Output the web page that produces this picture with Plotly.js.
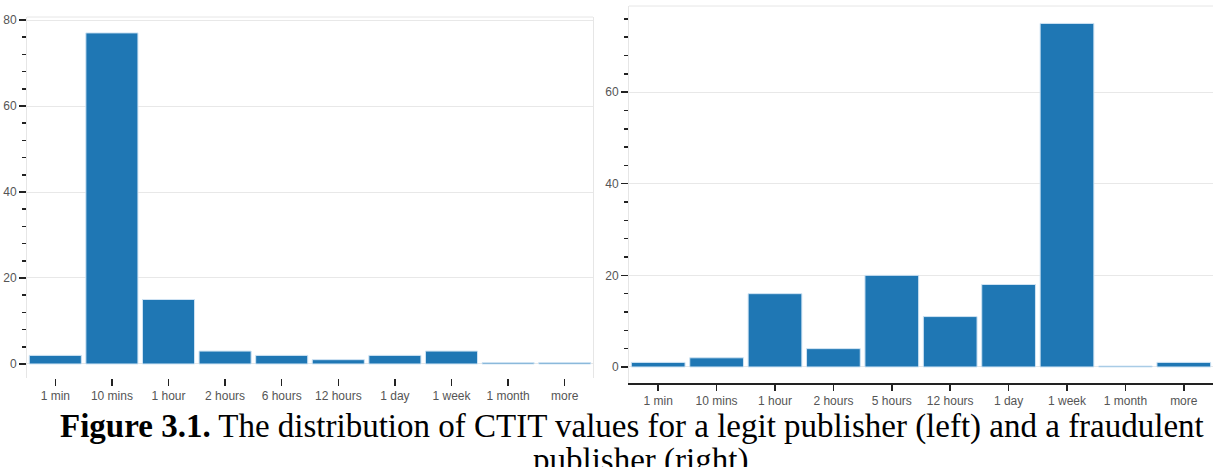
<!DOCTYPE html>
<html>
<head>
<meta charset="utf-8">
<script src="https://cdn.plot.ly/plotly-3.0.1.min.js"></script>
<style>
html,body{margin:0;padding:0;background:#fff;}
#chart{width:1217px;height:467px;}
</style>
</head>
<body>
<div id="chart"></div>
<script>
// ---- data ----
const leftCategories = ["1 min","10 mins","1 hour","2 hours","6 hours","12 hours","1 day","1 week","1 month","more"];
const leftValues     = [2, 77, 15, 3, 2, 1, 2, 3, 0.3, 0.3];
const rightCategories = ["1 min","10 mins","1 hour","2 hours","5 hours","12 hours","1 day","1 week","1 month","more"];
const rightValues     = [1, 2, 16, 4, 20, 11, 18, 75, 0.2, 1];
const yTickValues = [0, 20, 40, 60, 80];
const captionBold = "Figure 3.1.";
const captionLine1 = " The distribution of CTIT values for a legit publisher (left) and a fraudulent";
const captionLine2 = "publisher (right)";

// ---- layout helpers (pixel -> paper) ----
const W = 1217, H = 467;
const px = v => v / W;
const py = v => (H - v) / H;

const barColor = "#1f77b4";
const tickFont = {family: "Liberation Sans, Arial, sans-serif", size: 12, color: "#555"};
const captionFont = {family: "Liberation Serif, Times New Roman, serif", size: 33, color: "#000"};

const traces = [
  {type: "bar", x: leftCategories, y: leftValues, xaxis: "x", yaxis: "y",
   marker: {color: barColor, line: {color: "#cfe3f3", width: 1}}, hoverinfo: "x+y"},
  {type: "bar", x: rightCategories, y: rightValues, xaxis: "x2", yaxis: "y2",
   marker: {color: barColor, line: {color: "#cfe3f3", width: 1}}, hoverinfo: "x+y"}
];

const yCommon = {
  tickmode: "array", tickvals: yTickValues, ticktext: yTickValues.map(String),
  ticks: "outside", ticklen: 7, tickcolor: "#222", tickwidth: 1.5,
  minor: {dtick: 4, tick0: 0, ticks: "outside", ticklen: 4, tickcolor: "#222", tickwidth: 1.5, showgrid: false},
  showgrid: true, gridcolor: "#e8e8e8", gridwidth: 1,
  zeroline: false, tickfont: tickFont, fixedrange: true
};

const layout = {
  width: W, height: H,
  margin: {l: 0, r: 0, t: 0, b: 0},
  paper_bgcolor: "#fff", plot_bgcolor: "#fff",
  showlegend: false,
  bargap: 0.08,
  xaxis: {domain: [px(27), px(593)], anchor: "y", type: "category",
          ticks: "outside", ticklen: 7, tickcolor: "#222", tickwidth: 1.5,
          showline: false, showgrid: false, zeroline: false, tickfont: tickFont},
  yaxis: Object.assign({}, yCommon, {domain: [py(378), py(17)], anchor: "x", range: [-3.26, 80.7],
          showline: true, mirror: true, linecolor: "#e6e6e6", linewidth: 1}),
  xaxis2: {domain: [px(629), px(1213)], anchor: "y2", type: "category",
          ticks: "outside", ticklen: 6, tickcolor: "#222", tickwidth: 1.5,
          showline: true, linecolor: "#222", linewidth: 1.5,
          showgrid: false, zeroline: false, tickfont: tickFont},
  yaxis2: Object.assign({}, yCommon, {domain: [py(383), py(6)], anchor: "x2", range: [-3.5, 78.8],
          showline: true, linecolor: "#e6e6e6", linewidth: 1}),
  shapes: [
    {type: "line", xref: "x domain", yref: "y domain", x0: 0, x1: 1, y0: 1, y1: 1,
     line: {color: "#e6e6e6", width: 1}},
    {type: "line", xref: "x2 domain", yref: "y2 domain", x0: 0, x1: 1, y0: 1, y1: 1,
     line: {color: "#e6e6e6", width: 1}}
  ],
  annotations: [
    {xref: "paper", yref: "paper", x: px(632), y: py(426), xanchor: "center", yanchor: "middle",
     showarrow: false, text: "<b>" + captionBold + "</b>" + captionLine1, font: captionFont},
    {xref: "paper", yref: "paper", x: px(640), y: py(460), xanchor: "center", yanchor: "middle",
     showarrow: false, text: captionLine2, font: captionFont}
  ]
};

Plotly.newPlot("chart", traces, layout, {displayModeBar: false, staticPlot: true});
</script>
</body>
</html>
